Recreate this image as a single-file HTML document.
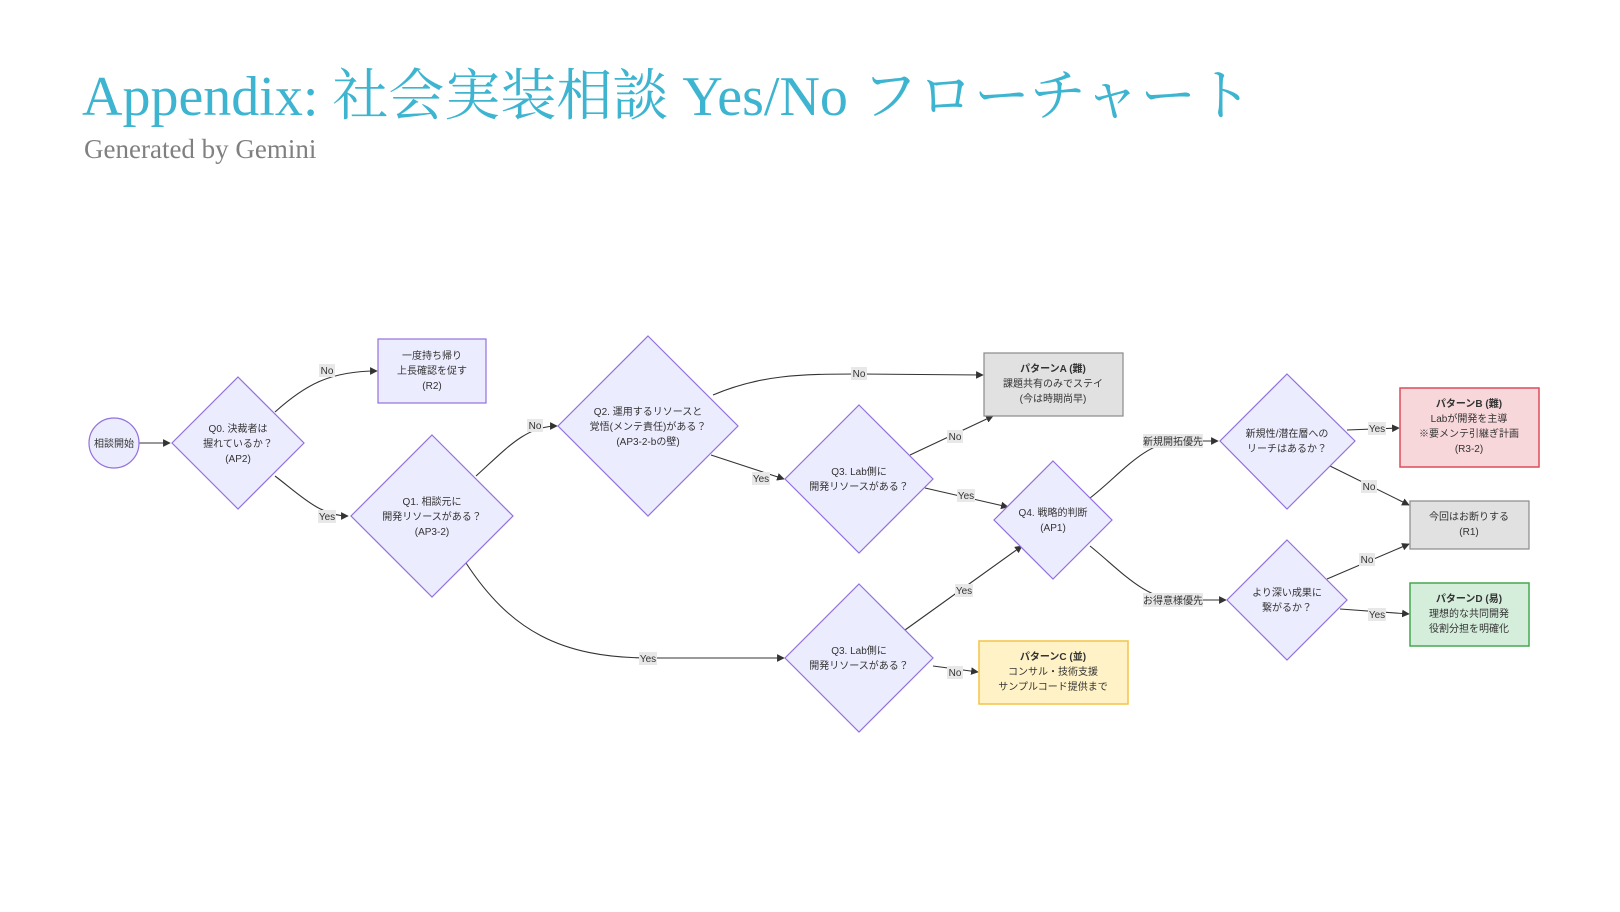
<!DOCTYPE html>
<html><head><meta charset="utf-8"><style>
html,body{margin:0;padding:0;background:#fff;}
body{width:1620px;height:912px;position:relative;overflow:hidden;}
.t{position:absolute;left:82px;top:52px;font-family:"Liberation Serif","Noto Serif CJK SC",serif;font-size:56px;color:#3db4d0;white-space:nowrap;}
.s{position:absolute;left:84px;top:134px;font-family:"Liberation Serif",serif;font-size:27px;color:#808080;white-space:nowrap;}
svg{position:absolute;left:0;top:0;}
text{font-family:"Liberation Sans","Noto Sans CJK JP",sans-serif;font-size:10px;fill:#333;text-anchor:middle;}
.b{font-weight:bold;}
.d{fill:#ececff;stroke:#9370db;stroke-width:1.2;}
.e{fill:none;stroke:#333;stroke-width:1.1;marker-end:url(#a);}
.lb{fill:#e8e8e8;}
</style></head><body>
<div class="t">Appendix: 社会実装相談 Yes/No フローチャート</div>
<div class="s">Generated by Gemini</div>
<svg width="1620" height="912" viewBox="0 0 1620 912">
<defs><marker id="a" viewBox="0 0 10 10" refX="9" refY="5" markerWidth="7" markerHeight="7" orient="auto"><path d="M0,0L10,5L0,10z" fill="#333"/></marker></defs>
<!-- edges -->
<path class="e" d="M139,443L170,443"/>
<path class="e" d="M275,412C305,385 330,371 377,371"/>
<path class="e" d="M275,476C300,495 320,516 348,516"/>
<path class="e" d="M476,476C505,450 525,426 557,426"/>
<path class="e" d="M466,563C510,630 560,658 650,658L784,658"/>
<path class="e" d="M713,395C760,375 800,374 859,374L983,375"/>
<path class="e" d="M711,455L784,479"/>
<path class="e" d="M910,455L993,416"/>
<path class="e" d="M925,488L1008,507"/>
<path class="e" d="M905,630L1022,546"/>
<path class="e" d="M933,666L978,672"/>
<path class="e" d="M1090,498C1120,475 1145,441 1180,441L1218,441"/>
<path class="e" d="M1090,546C1120,570 1145,600 1180,600L1226,600"/>
<path class="e" d="M1347,430L1399,428"/>
<path class="e" d="M1330,466L1409,505"/>
<path class="e" d="M1327,579L1409,544"/>
<path class="e" d="M1340,609L1409,614"/>
<!-- edge labels -->
<g>
<rect class="lb" x="319" y="364" width="16" height="13"/><text x="327" y="374">No</text>
<rect class="lb" x="318" y="510" width="18" height="13"/><text x="327" y="520">Yes</text>
<rect class="lb" x="527" y="419" width="16" height="13"/><text x="535" y="429">No</text>
<rect class="lb" x="639" y="652" width="18" height="13"/><text x="648" y="662">Yes</text>
<rect class="lb" x="851" y="367" width="16" height="13"/><text x="859" y="377">No</text>
<rect class="lb" x="752" y="472" width="18" height="13"/><text x="761" y="482">Yes</text>
<rect class="lb" x="947" y="430" width="16" height="13"/><text x="955" y="440">No</text>
<rect class="lb" x="957" y="489" width="18" height="13"/><text x="966" y="499">Yes</text>
<rect class="lb" x="955" y="584" width="18" height="13"/><text x="964" y="594">Yes</text>
<rect class="lb" x="947" y="666" width="16" height="13"/><text x="955" y="676">No</text>
<rect class="lb" x="1143" y="434" width="60" height="14"/><text x="1173" y="445">新規開拓優先</text>
<rect class="lb" x="1143" y="593" width="60" height="14"/><text x="1173" y="604">お得意様優先</text>
<rect class="lb" x="1368" y="422" width="18" height="13"/><text x="1377" y="432">Yes</text>
<rect class="lb" x="1361" y="480" width="16" height="13"/><text x="1369" y="490">No</text>
<rect class="lb" x="1359" y="553" width="16" height="13"/><text x="1367" y="563">No</text>
<rect class="lb" x="1368" y="608" width="18" height="13"/><text x="1377" y="618">Yes</text>
</g>
<!-- nodes -->
<circle class="d" cx="114" cy="443" r="25"/><text x="114" y="447">相談開始</text>
<polygon class="d" points="238,377 304,443 238,509 172,443"/>
<text x="238" y="432">Q0. 決裁者は</text><text x="238" y="447">握れているか？</text><text x="238" y="462">(AP2)</text>
<rect class="d" x="378" y="339" width="108" height="64"/>
<text x="432" y="359">一度持ち帰り</text><text x="432" y="374">上長確認を促す</text><text x="432" y="389">(R2)</text>
<polygon class="d" points="432,435 513,516 432,597 351,516"/>
<text x="432" y="505">Q1. 相談元に</text><text x="432" y="520">開発リソースがある？</text><text x="432" y="535">(AP3-2)</text>
<polygon class="d" points="648,336 738,426 648,516 558,426"/>
<text x="648" y="415">Q2. 運用するリソースと</text><text x="648" y="430">覚悟(メンテ責任)がある？</text><text x="648" y="445">(AP3-2-bの壁)</text>
<polygon class="d" points="859,405 933,479 859,553 785,479"/>
<text x="859" y="475">Q3. Lab側に</text><text x="859" y="490">開発リソースがある？</text>
<polygon class="d" points="859,584 933,658 859,732 785,658"/>
<text x="859" y="654">Q3. Lab側に</text><text x="859" y="669">開発リソースがある？</text>
<rect x="984" y="353" width="139" height="63" fill="#e1e1e1" stroke="#8a8a8a" stroke-width="1.2"/>
<text class="b" x="1053" y="372">パターンA (難)</text><text x="1053" y="387">課題共有のみでステイ</text><text x="1053" y="402">(今は時期尚早)</text>
<polygon class="d" points="1053,461 1112,520 1053,579 994,520"/>
<text x="1053" y="516">Q4. 戦略的判断</text><text x="1053" y="531">(AP1)</text>
<rect x="979" y="641" width="149" height="63" fill="#fff2c6" stroke="#f3c443" stroke-width="1.5"/>
<text class="b" x="1053" y="660">パターンC (並)</text><text x="1053" y="675">コンサル・技術支援</text><text x="1053" y="690">サンプルコード提供まで</text>
<polygon class="d" points="1287,374 1355,441 1287,509 1220,441"/>
<text x="1287" y="437">新規性/潜在層への</text><text x="1287" y="452">リーチはあるか？</text>
<polygon class="d" points="1287,540 1347,600 1287,660 1227,600"/>
<text x="1287" y="596">より深い成果に</text><text x="1287" y="611">繋がるか？</text>
<rect x="1400" y="388" width="139" height="79" fill="#f8d7da" stroke="#dd4b5a" stroke-width="1.5"/>
<text class="b" x="1469" y="407">パターンB (難)</text><text x="1469" y="422">Labが開発を主導</text><text x="1469" y="437">※要メンテ引継ぎ計画</text><text x="1469" y="452">(R3-2)</text>
<rect x="1410" y="501" width="119" height="48" fill="#e1e1e1" stroke="#8a8a8a" stroke-width="1.2"/>
<text x="1469" y="520">今回はお断りする</text><text x="1469" y="535">(R1)</text>
<rect x="1410" y="583" width="119" height="63" fill="#d5eddb" stroke="#45a84f" stroke-width="1.5"/>
<text class="b" x="1469" y="602">パターンD (易)</text><text x="1469" y="617">理想的な共同開発</text><text x="1469" y="632">役割分担を明確化</text>
</svg>
</body></html>
